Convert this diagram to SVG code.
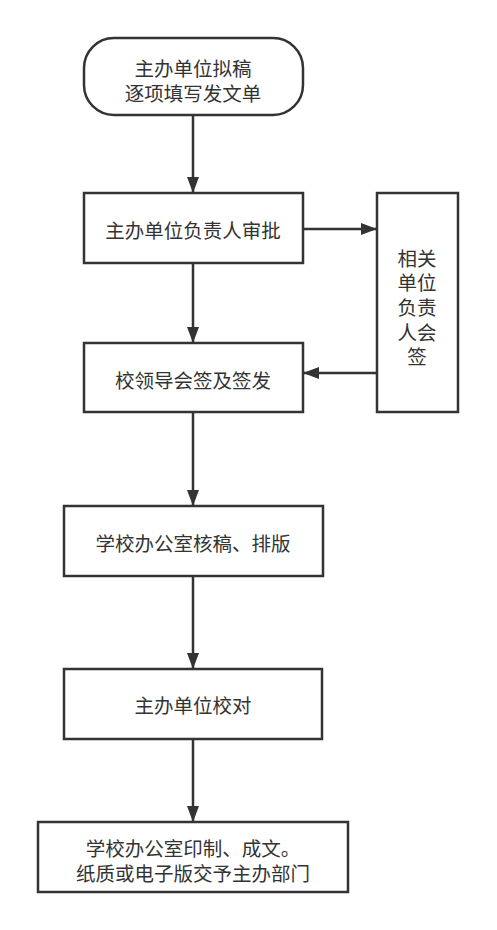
<svg xmlns="http://www.w3.org/2000/svg" width="497" height="930" viewBox="0 0 497 930">
<style>
.n{fill:#fff;stroke:#333;stroke-width:2.5}
.t{font-family:"Noto Sans CJK SC","Noto Sans",sans-serif;font-size:19.5px;fill:#333;text-anchor:middle;dominant-baseline:central}
.c{stroke:#333;stroke-width:2.5;fill:none;marker-end:url(#a)}
</style>
<defs>
<marker id="a" viewBox="0 0 16 12" refX="15" refY="6" markerWidth="16" markerHeight="12" markerUnits="userSpaceOnUse" orient="auto">
<path d="M0,0 L16,6 L0,12 Z" fill="#333"/>
</marker>
</defs>
<rect width="497" height="930" fill="#fff"/>
<g id="connectors">
<path class="c" d="M193,115 V192"/>
<path class="c" d="M303,229 H376"/>
<path class="c" d="M193,264 V342"/>
<path class="c" d="M377,373 H304"/>
<path class="c" d="M193,413 V505"/>
<path class="c" d="M193,577 V668"/>
<path class="c" d="M193,740 V821"/>
</g>
<g id="n1">
<rect class="n" x="84" y="38" width="219" height="77" rx="30" ry="30"/>
<text class="t" x="193" y="67">主办单位拟稿</text>
<text class="t" x="193" y="92">逐项填写发文单</text>
</g>
<g id="n2">
<rect class="n" x="84" y="193" width="219" height="70"/>
<text class="t" x="193" y="229">主办单位负责人审批</text>
</g>
<g id="n3">
<rect class="n" x="377" y="193" width="81" height="219"/>
<text class="t" x="417" y="257">相关</text>
<text class="t" x="417" y="281">单位</text>
<text class="t" x="417" y="306">负责</text>
<text class="t" x="417" y="331">人会</text>
<text class="t" x="417" y="355">签</text>
</g>
<g id="n4">
<rect class="n" x="84" y="343" width="219" height="69"/>
<text class="t" x="193" y="379">校领导会签及签发</text>
</g>
<g id="n5">
<rect class="n" x="64" y="506" width="259" height="70"/>
<text class="t" x="193" y="542">学校办公室核稿、排版</text>
</g>
<g id="n6">
<rect class="n" x="64" y="669" width="258" height="70"/>
<text class="t" x="193" y="704">主办单位校对</text>
</g>
<g id="n7">
<rect class="n" x="38" y="822" width="310" height="70"/>
<text class="t" x="193" y="847">学校办公室印制、成文。</text>
<text class="t" x="193" y="872">纸质或电子版交予主办部门</text>
</g>
</svg>
